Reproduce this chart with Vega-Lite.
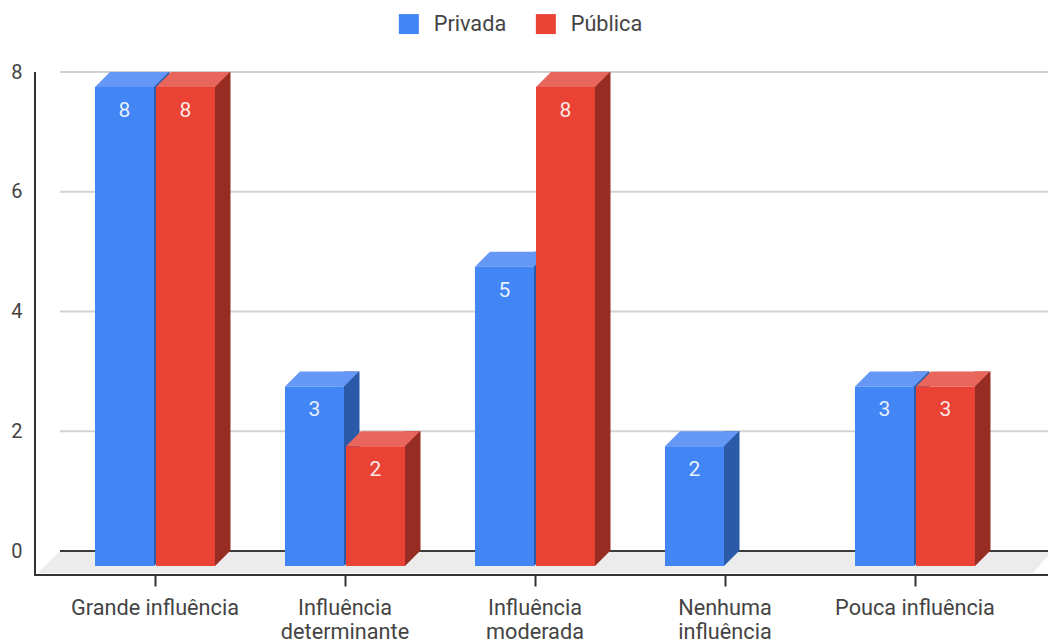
{
"$schema":"https://vega.github.io/schema/vega-lite/v6.json",
"autosize":"none",
"padding":{"left":60,"top":72,"right":0,"bottom":93},
"width":988,"height":479,
"background":"white",
"config":{"view":{"stroke":null},"font":"Roboto","text":{"font":"Roboto"}},
"data":{"values":[
{"categoria":"Grande influência","tipo":"Privada","valor":8},
{"categoria":"Grande influência","tipo":"Pública","valor":8},
{"categoria":"Influência determinante","tipo":"Privada","valor":3},
{"categoria":"Influência determinante","tipo":"Pública","valor":2},
{"categoria":"Influência moderada","tipo":"Privada","valor":5},
{"categoria":"Influência moderada","tipo":"Pública","valor":8},
{"categoria":"Nenhuma influência","tipo":"Privada","valor":2},
{"categoria":"Pouca influência","tipo":"Privada","valor":3},
{"categoria":"Pouca influência","tipo":"Pública","valor":3}
]},
"resolve":{"scale":{"y":"independent","color":"independent","xOffset":"independent"},"axis":{"y":"independent"}},
"layer":[
{"data":{"values":[{"valor":2},{"valor":4},{"valor":6},{"valor":8}]},
 "mark":{"type":"rule","stroke":"#d2d2d2","strokeWidth":2},
 "encoding":{"y":{"field":"valor","type":"quantitative","scale":{"domain":[0,8]},"axis":null}}},
{"data":{"values":[{"categoria":"Grande influência","valor":0}]},
 "mark":{"type":"point","shape":"M-95,0L-117,22L878,22L897,0Z","size":4,"filled":true,"fill":"#ececec","stroke":null,"opacity":1,"clip":false},
 "encoding":{
  "x":{"field":"categoria","type":"nominal","sort":null,"scale":{"domain":["Grande influência","Influência determinante","Influência moderada","Nenhuma influência","Pouca influência"],"range":[0,950],"paddingInner":0,"paddingOuter":0},
   "axis":{"title":null,"domain":false,"labelAngle":0,"offset":24,"tickSize":11,"tickWidth":2,"tickColor":"#333","labelPadding":11,"labelFontSize":21.7,"labelColor":"#444","labelFont":"Roboto","labelLimit":300,"labelLineHeight":24.5,"labelBaseline":"top",
    "labelExpr":"(datum.label=='Grande influência'||datum.label=='Pouca influência')?datum.label:split(datum.label,' ')"}},
  "y":{"field":"valor","type":"quantitative","scale":{"domain":[0,8]},
   "axis":{"title":null,"values":[0,2,4,6,8],"domain":false,"ticks":false,"offset":25,"labelPadding":13,"labelFontSize":20,"labelColor":"#444","labelFont":"Roboto","grid":false}}
 }},
{"data":{"values":[{"valor":0}]},
 "mark":{"type":"rule","stroke":"#3c3c3c","strokeWidth":2},
 "encoding":{"y":{"field":"valor","type":"quantitative","scale":{"domain":[0,8]},"axis":null}}},
{"data":{"values":[{"categoria":"Grande influência","valor":0}]},
 "mark":{"type":"point","shape":"M-120,-479L-120,24L900,24","size":4,"filled":false,"fill":null,"stroke":"#333","strokeWidth":2,"opacity":1,"clip":false},
 "encoding":{
  "x":{"field":"categoria","type":"nominal","sort":null},
  "y":{"field":"valor","type":"quantitative","scale":{"domain":[0,8]},"axis":null}
 }},
{"mark":{"type":"bar","width":16,"clip":false},
 "encoding":{
  "x":{"field":"categoria","type":"nominal","sort":null},
  "xOffset":{"field":"tipo","type":"nominal","scale":{"domain":["Privada","Pública"],"range":[71,193]}},
  "y":{"field":"valor","type":"quantitative","stack":null,"scale":{"domain":[0,8]},"axis":null},
  "color":{"field":"tipo","type":"nominal","scale":{"domain":["Privada","Pública"],"range":["#2b5ba8","#962c22"]},"legend":null}
 }},
{"mark":{"type":"point","shape":"M29.5,0L44.5,-15L29.5,-15Z","size":4,"filled":true,"opacity":1,"stroke":null,"clip":false},
 "encoding":{
  "x":{"field":"categoria","type":"nominal","sort":null},
  "xOffset":{"field":"tipo","type":"nominal","scale":{"domain":["Privada","Pública"],"range":[34,156]}},
  "y":{"datum":0,"type":"quantitative","scale":{"domain":[0,8],"range":[494,15]},"axis":null},
  "color":{"field":"tipo","type":"nominal","scale":{"domain":["Privada","Pública"],"range":["#2b5ba8","#962c22"]},"legend":null}
 }},
{"mark":{"type":"point","shape":"M-29.5,0L29.5,0L44.5,-15L-14.5,-15Z","size":4,"filled":true,"opacity":1,"stroke":null,"clip":false},
 "encoding":{
  "x":{"field":"categoria","type":"nominal","sort":null},
  "xOffset":{"field":"tipo","type":"nominal","scale":{"domain":["Privada","Pública"],"range":[34,156]}},
  "y":{"field":"valor","type":"quantitative","scale":{"domain":[0,8],"range":[494,15]},"axis":null},
  "color":{"field":"tipo","type":"nominal","scale":{"domain":["Privada","Pública"],"range":["#6497f6","#e8665b"]},"legend":null}
 }},
{"mark":{"type":"bar","width":59,"clip":false},
 "encoding":{
  "x":{"field":"categoria","type":"nominal","sort":null},
  "xOffset":{"field":"tipo","type":"nominal","scale":{"domain":["Privada","Pública"],"range":[34,156]}},
  "y":{"field":"valor","type":"quantitative","stack":null,"scale":{"domain":[0,8],"range":[494,15]},"axis":null},
  "color":{"field":"tipo","type":"nominal","scale":{"domain":["Privada","Pública"],"range":["#4285f4","#ea4335"]},
   "legend":{"title":null,"orient":"none","legendX":338,"legendY":-59,"padding":0,"direction":"horizontal","columns":2,"symbolType":"square","symbolSize":400,"symbolStrokeWidth":0,"labelFontSize":21.7,"labelColor":"#444","labelFont":"Roboto","labelOffset":14,"columnPadding":28,"symbolOpacity":1}}
 }},
{"mark":{"type":"text","dy":24,"fontSize":21,"font":"Roboto","fill":"#fff","fillOpacity":0.9,"clip":false},
 "encoding":{
  "x":{"field":"categoria","type":"nominal","sort":null},
  "xOffset":{"field":"tipo","type":"nominal","scale":{"domain":["Privada","Pública"],"range":[34,156]}},
  "y":{"field":"valor","type":"quantitative","scale":{"domain":[0,8],"range":[494,15]},"axis":null},
  "text":{"field":"valor","type":"quantitative"}
 }}
]}
